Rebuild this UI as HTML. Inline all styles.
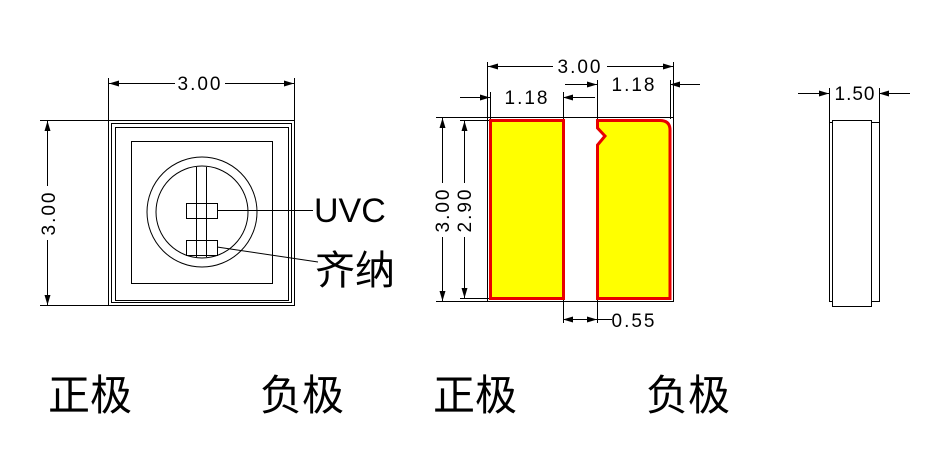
<!DOCTYPE html>
<html><head><meta charset="utf-8"><style>
html,body{margin:0;padding:0;background:#fff;}
svg{display:block;}
text{font-family:"Liberation Sans","Noto Sans CJK SC",sans-serif;fill:#000;}
</style></head><body>
<svg width="931" height="458" viewBox="0 0 931 458" xmlns="http://www.w3.org/2000/svg">
<defs>
<marker id="a" viewBox="0 0 10 6" refX="10" refY="3" markerWidth="10" markerHeight="6" orient="auto-start-reverse" markerUnits="userSpaceOnUse"><path d="M0,0 L10,3 L0,6 z" fill="#000"/></marker>
</defs>
<g stroke="#000" stroke-width="1" fill="none">
<rect x="108.5" y="120.5" width="186" height="185"/>
<rect x="111.5" y="123.5" width="180" height="179"/>
<rect x="115.5" y="127.5" width="173" height="173"/>
<rect x="131.5" y="141.5" width="141" height="142"/>
<circle cx="202" cy="212" r="55"/>
<circle cx="202" cy="212" r="46"/>
<line x1="196.5" y1="167" x2="196.5" y2="257"/>
<line x1="206.5" y1="167" x2="206.5" y2="257"/>
<rect x="186.5" y="203.5" width="31" height="15" fill="#fff"/>
<rect x="186.5" y="240.5" width="31" height="15" fill="#fff"/>
<line x1="196.5" y1="203" x2="196.5" y2="256"/>
<line x1="206.5" y1="203" x2="206.5" y2="256"/>
<line x1="217" y1="210.5" x2="313" y2="210.5"/>
<line x1="217" y1="247" x2="318" y2="262"/>
<line x1="108.5" y1="78" x2="108.5" y2="120"/>
<line x1="294.5" y1="78" x2="294.5" y2="120"/>
<line x1="109" y1="83.5" x2="175" y2="83.5" marker-start="url(#a)"/>
<line x1="225" y1="83.5" x2="294" y2="83.5" marker-end="url(#a)"/>
<line x1="40" y1="120.5" x2="108" y2="120.5"/>
<line x1="40" y1="305.5" x2="108" y2="305.5"/>
<line x1="47.5" y1="121" x2="47.5" y2="186" marker-start="url(#a)"/>
<line x1="47.5" y1="240" x2="47.5" y2="305" marker-end="url(#a)"/>
<rect x="487.5" y="117.5" width="186" height="184"/>
<line x1="487.5" y1="62" x2="487.5" y2="117"/>
<line x1="673.5" y1="62" x2="673.5" y2="117"/>
<line x1="488" y1="66.5" x2="553" y2="66.5" marker-start="url(#a)"/>
<line x1="607" y1="66.5" x2="673" y2="66.5" marker-end="url(#a)"/>
<line x1="490.5" y1="92" x2="490.5" y2="119"/>
<line x1="563.5" y1="92" x2="563.5" y2="119"/>
<line x1="460" y1="97.5" x2="490" y2="97.5" marker-end="url(#a)"/>
<line x1="595" y1="97.5" x2="563" y2="97.5" marker-end="url(#a)"/>
<line x1="597.5" y1="80" x2="597.5" y2="119"/>
<line x1="670.5" y1="80" x2="670.5" y2="119"/>
<line x1="565" y1="84.5" x2="597" y2="84.5" marker-end="url(#a)"/>
<line x1="700" y1="84.5" x2="670" y2="84.5" marker-end="url(#a)"/>
<line x1="436" y1="117.5" x2="487" y2="117.5"/>
<line x1="436" y1="301.5" x2="487" y2="301.5"/>
<line x1="442.5" y1="118" x2="442.5" y2="183" marker-start="url(#a)"/>
<line x1="442.5" y1="237" x2="442.5" y2="301" marker-end="url(#a)"/>
<line x1="460" y1="120.5" x2="490" y2="120.5"/>
<line x1="460" y1="298.5" x2="490" y2="298.5"/>
<line x1="464.5" y1="121" x2="464.5" y2="183" marker-start="url(#a)"/>
<line x1="464.5" y1="237" x2="464.5" y2="298" marker-end="url(#a)"/>
<line x1="563.5" y1="298" x2="563.5" y2="323"/>
<line x1="597.5" y1="298" x2="597.5" y2="323"/>
<line x1="563" y1="319.5" x2="580" y2="319.5" marker-start="url(#a)"/>
<line x1="580" y1="319.5" x2="597" y2="319.5" marker-end="url(#a)"/>
<line x1="597" y1="319.5" x2="612" y2="319.5"/>
<rect x="829.5" y="122.5" width="50" height="179"/>
<rect x="832.5" y="120.5" width="39" height="186" fill="#fff"/>
<line x1="829.5" y1="88" x2="829.5" y2="122"/>
<line x1="879.5" y1="88" x2="879.5" y2="122"/>
<line x1="798" y1="93.5" x2="829" y2="93.5" marker-end="url(#a)"/>
<line x1="910" y1="93.5" x2="879" y2="93.5" marker-end="url(#a)"/>
</g>
<rect x="490.5" y="120.5" width="73" height="178" fill="#ffff00" stroke="#e80000" stroke-width="3"/>
<path d="M597.5,120.5 L660,120.5 Q670,120.5 670,130 L670,298.5 L597.5,298.5 L597.5,145 L605,136 L597.5,128 Z" fill="#ffff00" stroke="#e80000" stroke-width="3"/>
<g font-size="19">
<text x="200" y="90" text-anchor="middle" letter-spacing="2">3.00</text>
<text x="580" y="73" text-anchor="middle" letter-spacing="2">3.00</text>
<text x="527" y="104" text-anchor="middle" letter-spacing="2">1.18</text>
<text x="634" y="91" text-anchor="middle" letter-spacing="2">1.18</text>
<text x="634" y="327" text-anchor="middle" letter-spacing="2">0.55</text>
<text x="855" y="100" text-anchor="middle" letter-spacing="1">1.50</text>
<text transform="translate(55,213) rotate(-90)" text-anchor="middle" letter-spacing="2">3.00</text>
<text transform="translate(449,210) rotate(-90)" text-anchor="middle" letter-spacing="2">3.00</text>
<text transform="translate(471,210) rotate(-90)" text-anchor="middle" letter-spacing="2">2.90</text>
</g>
<text x="314" y="222" font-size="34">UVC</text>
<text x="315" y="284" font-size="40">齐纳</text>
<g font-size="42">
<text x="48" y="410">正极</text>
<text x="260" y="410">负极</text>
<text x="433" y="410">正极</text>
<text x="646" y="410">负极</text>
</g>
</svg>
</body></html>
